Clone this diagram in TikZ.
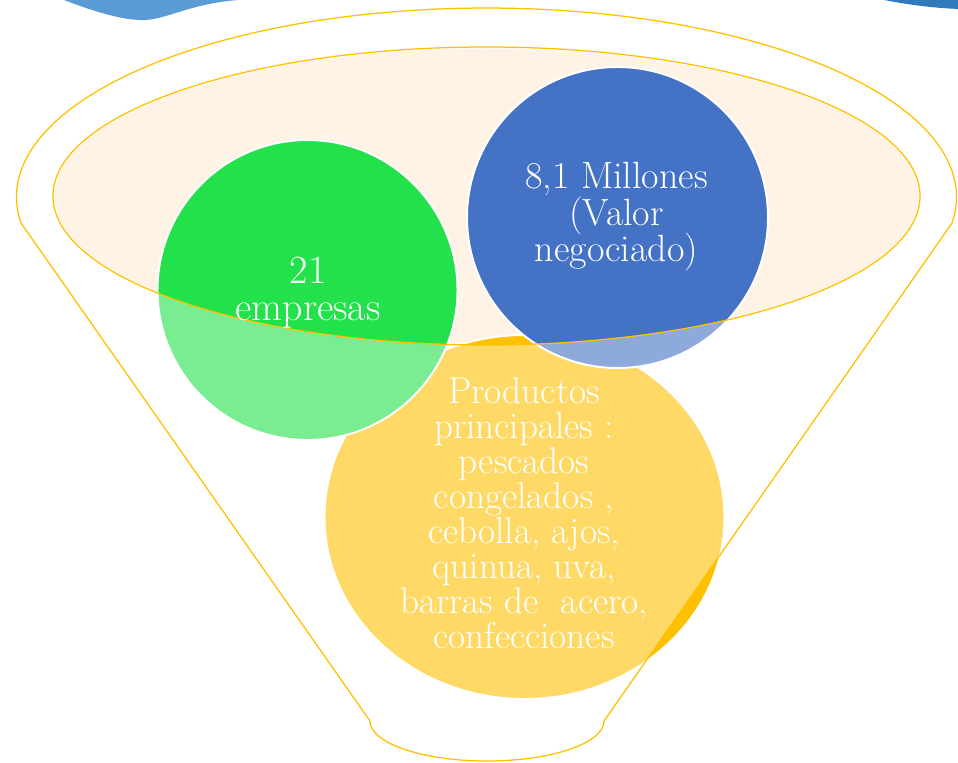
\documentclass[tikz,border=0pt]{standalone}
\usepackage{fontspec}
\usepackage{tikz}
\usetikzlibrary{calc}

\definecolor{funnelgold}{HTML}{FFC000}
\definecolor{rimpeach}{HTML}{FFF3E5}
\definecolor{firmgreen}{HTML}{22E14A}
\definecolor{valueblue}{HTML}{4472C4}
\definecolor{goodsyellow}{HTML}{FFC000}
\definecolor{wavyblue}{HTML}{5B9BD5}
\definecolor{wavydark}{HTML}{3079BD}
\newcommand\tightlines{\lineskiplimit=-20pt\relax}

\begin{document}
\begin{tikzpicture}[x=0.025cm,y=-0.025cm,
  rim/.style={draw=funnelgold,line width=0.9pt},
  bubble/.style={draw=white,line width=1.4pt},
  tagtext/.style={text=white,align=center,inner sep=0pt}]
\useasboundingbox (0,0) rectangle (958,762);

% pieces of the shapes cut off at the top
\fill[wavyblue] (64,-5) -- (64,0) .. controls (95,12) and (125,21) .. (146,20) .. controls (170,18) and (190,4) .. (238,0) -- (238,-5) -- cycle;
\fill[wavydark] (884,-5) -- (884,0) .. controls (905,4) and (930,8) .. (960,9) -- (960,-5) -- cycle;

% mouth of the funnel
\fill[rimpeach] (486.5,196) ellipse [x radius=432, y radius=147.5];

% bubbles
\filldraw[bubble,fill=goodsyellow] (524.5,517) ellipse [x radius=200, y radius=182];
\filldraw[bubble,fill=firmgreen] (307.5,290) circle [radius=150];
\filldraw[bubble,fill=valueblue] (617.5,217.5) circle [radius=150.5];

% body of the funnel, lighter over the bubbles
\fill[white,fill opacity=0.4,even odd rule]
  (21,223) arc[start angle=172.1,end angle=367.9,x radius=470,y radius=189]
  -- (604,721) arc[start angle=0,end angle=180,x radius=117,y radius=40]
  -- cycle
  (486.5,196) ellipse [x radius=433.5, y radius=149];
\draw[rim] (21,223) arc[start angle=172.1,end angle=367.9,x radius=470,y radius=189]
  -- (604,721) arc[start angle=0,end angle=180,x radius=117,y radius=40]
  -- cycle;
\draw[rim] (486.5,196) ellipse [x radius=433.5, y radius=149];

% texts
\node[tagtext,font=\fontsize{28.5}{26.3}\selectfont] (firms) at (308,292.5) {21\\empresas};
\node[tagtext,font=\fontsize{27}{26}\selectfont\tightlines] (value) at (616.5,217) {8,1 Millones\\(Valor\\negociado)};
\node[tagtext,font=\fontsize{26.5}{24.9}\selectfont\tightlines] (goods) at (524,513.3) {Productos\\principales :\\pescados\\congelados ,\\cebolla, ajos,\\quinua, uva,\\barras de\ \ acero,\\confecciones};
\end{tikzpicture}
\end{document}
